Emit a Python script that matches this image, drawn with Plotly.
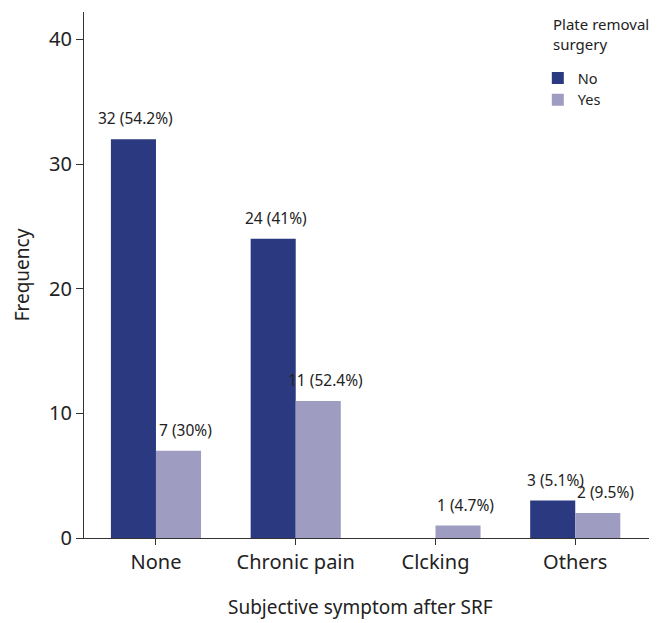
import plotly.graph_objects as go

categories = ["None", "Chronic pain", "Clcking", "Others"]
no_values = [32, 24, 0, 3]
yes_values = [7, 11, 1, 2]
no_labels = ["32 (54.2%)", "24 (41%)", "", "3 (5.1%)"]
yes_labels = ["7 (30%)", "11 (52.4%)", "1 (4.7%)", "2 (9.5%)"]
y_ticks = [0, 10, 20, 30, 40]

NO_COLOR = "#2B3A80"
YES_COLOR = "#9F9CC1"
FONT = "Noto Sans"
TXT = "#222222"

fig = go.Figure()
fig.add_trace(go.Bar(name="No", x=categories, y=no_values, marker_color=NO_COLOR,
                     marker_line_width=0))
fig.add_trace(go.Bar(name="Yes", x=categories, y=yes_values, marker_color=YES_COLOR,
                     marker_line_width=0))

annotations = []
for cat, v, lab in zip(categories, no_values, no_labels):
    if lab:
        annotations.append(dict(x=cat, y=v, xref="x", yref="y", text=lab, showarrow=False,
                                xshift=-20, yshift=8, yanchor="bottom",
                                font=dict(family=FONT, size=15.5, color=TXT)))
for cat, v, lab in zip(categories, yes_values, yes_labels):
    if lab:
        annotations.append(dict(x=cat, y=v, xref="x", yref="y", text=lab, showarrow=False,
                                xshift=30, yshift=8, yanchor="bottom",
                                font=dict(family=FONT, size=15.5, color=TXT)))

annotations.append(dict(x=0.815, y=1.0, xref="paper", yref="paper", text="Plate removal<br>surgery",
                        showarrow=False, xanchor="left", yanchor="top", align="left",
                        font=dict(family=FONT, size=15, color=TXT)))
annotations.append(dict(x=0.482, y=0, xref="paper", yref="paper", text="Subjective symptom after SRF",
                        showarrow=False, xanchor="center", yanchor="middle", yshift=-69,
                        font=dict(family=FONT, size=19, color=TXT)))

# page body has an 8px margin: figure sized/offset to compensate
fig.update_layout(
    width=649, height=615,
    margin=dict(l=76, r=0, t=4, b=85, autoexpand=False),
    paper_bgcolor="white", plot_bgcolor="white",
    barmode="group", bargap=0.355, bargroupgap=0,
    font=dict(family=FONT, color=TXT),
    showlegend=True,
    legend=dict(x=0.792, y=0.905, xanchor="left", yanchor="top",
                font=dict(family=FONT, size=14.5, color=TXT),
                bgcolor="rgba(0,0,0,0)", itemwidth=30, tracegroupgap=0),
    annotations=annotations,
    xaxis=dict(range=[-0.515, 3.585], showline=True, linecolor="#333333", linewidth=1.3,
               ticks="outside", ticklen=6, tickcolor="#333333", tickwidth=1.3,
               tickfont=dict(family=FONT, size=20, color=TXT),
               showgrid=False, zeroline=False),
    yaxis=dict(range=[0, 42.2], tickvals=y_ticks, showline=True, linecolor="#333333",
               linewidth=1.3, ticks="outside", ticklen=7, tickcolor="#333333", tickwidth=1.3,
               tickfont=dict(family=FONT, size=20, color=TXT),
               title=dict(text="Frequency", standoff=14,
                          font=dict(family=FONT, size=19, color=TXT)),
               showgrid=False, zeroline=False),
)

fig.write_html("out.html")
